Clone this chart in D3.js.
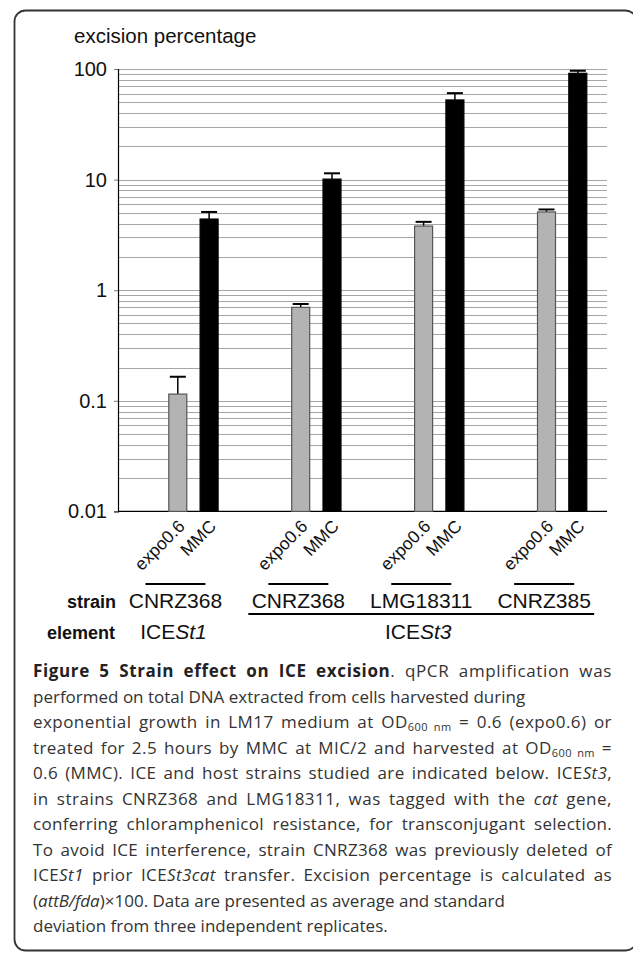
<!DOCTYPE html>
<html><head><meta charset="utf-8">
<script src="https://cdn.jsdelivr.net/npm/d3@7"></script>
<style>body{margin:0;background:#fff}svg{display:block}</style>
</head><body>
<svg id="chart" width="633" height="954"></svg>
<script>
// ---- data ----
const groups = [0, 1, 2, 3];
const strains = ["CNRZ368", "CNRZ368", "LMG18311", "CNRZ385"];
const conditions = ["expo0.6", "MMC"];
const expoValues = [0.115, 0.70, 3.8, 5.1];
const expoErrors = [0.05, 0.05, 0.35, 0.27];
const mmcValues = [4.4, 10.1, 52.5, 91.4];
const mmcErrors = [0.7, 1.3, 8, 5];
const yTicks = [0.01, 0.1, 1, 10, 100];
const yTickLabels = ["0.01", "0.1", "1", "10", "100"];
const elementPrefix = ["ICE", "ICE"];
const elementSuffix = ["St1", "St3"];
const elementGroups = [[0, 0], [1, 3]];
const captionLines = [
  [["Figure 5 Strain effect on ICE excision", "b"], [". qPCR amplification was", ""]],
  [["performed on total DNA extracted from cells harvested during", ""]],
  [["exponential growth in LM17 medium at OD", ""], ["600 nm", "sub"], [" = 0.6 (expo0.6) or", ""]],
  [["treated for 2.5 hours by MMC at MIC/2 and harvested at OD", ""], ["600 nm", "sub"], [" =", ""]],
  [["0.6 (MMC). ICE and host strains studied are indicated below. ICE", ""], ["St3", "i"], [",", ""]],
  [["in strains CNRZ368 and LMG18311, was tagged with the ", ""], ["cat", "i"], [" gene,", ""]],
  [["conferring chloramphenicol resistance, for transconjugant selection.", ""]],
  [["To avoid ICE interference, strain CNRZ368 was previously deleted of", ""]],
  [["ICE", ""], ["St1", "i"], [" prior ICE", ""], ["St3cat", "i"], [" transfer. Excision percentage is calculated as", ""]],
  [["(", ""], ["attB/fda", "i"], [")×100. Data are presented as average and standard", ""]],
  [["deviation from three independent replicates.", ""]]
];
const captionJustify = [true, false, true, true, true, true, true, true, true, false, false];

// ---- layout ----
const svg = d3.select("#chart");
const plotL = 118, plotR = 607, plotT = 69, plotB = 511.4;
const chartFont = "'Liberation Sans', Arial, sans-serif";

// frame
svg.append("rect").attr("x", 14.5).attr("y", 10.5).attr("width", 622).attr("height", 940)
  .attr("rx", 11).attr("fill", "none").attr("stroke", "#333").attr("stroke-width", 1.8);

const y = d3.scaleLog().domain([0.01, 100]).range([plotB, plotT]);
const x = d3.scaleBand().domain(groups).range([132, 623.6]);
const xs = d3.scaleBand().domain(conditions).range([-24.65, 24.65]).paddingInner(0.425);

// gridlines (all log ticks)
const gridVals = y.ticks().filter(v => v <= 100 && v >= 0.01);
svg.append("g").selectAll("line").data(gridVals).join("line")
  .attr("x1", plotL).attr("x2", plotR)
  .attr("y1", d => Math.round(y(d)) + 0.5).attr("y2", d => Math.round(y(d)) + 0.5)
  .attr("stroke", "#a6a6a6").attr("stroke-width", 1.2);

// y axis
const yAxis = d3.axisLeft(y).tickValues(yTicks).tickFormat((d, i) => yTickLabels[i]).tickSize(4).tickPadding(7);
const ga = svg.append("g").attr("transform", `translate(${plotL},0)`).call(yAxis);
ga.select(".domain").attr("stroke", "#000").attr("stroke-width", 1.2);
ga.selectAll(".tick line").attr("stroke", "#777");
ga.selectAll("text").attr("font-family", chartFont).attr("font-size", 20).attr("fill", "#111");

// x axis base line
svg.append("line").attr("x1", plotL).attr("x2", plotR).attr("y1", plotB).attr("y2", plotB)
  .attr("stroke", "#000").attr("stroke-width", 1.3);

svg.append("text").attr("x", 74).attr("y", 43).attr("font-family", chartFont).attr("font-size", 20.5)
  .attr("fill", "#111").text("excision percentage");

// bars
const barData = [];
groups.forEach(g => {
  barData.push({g, c: "expo0.6", v: expoValues[g], e: expoErrors[g]});
  barData.push({g, c: "MMC", v: mmcValues[g], e: mmcErrors[g]});
});
const bx = d => x(d.g) + x.bandwidth() / 2 + xs(d.c);
const cx = d => bx(d) + xs.bandwidth() / 2;

// error bars (upper)
const eg = svg.append("g");
eg.selectAll("line.v").data(barData).join("line").attr("class", "v")
  .attr("x1", cx).attr("x2", cx).attr("y1", d => y(d.v)).attr("y2", d => y(d.v + d.e))
  .attr("stroke", "#000").attr("stroke-width", 1.5);
eg.selectAll("line.c").data(barData).join("line").attr("class", "c")
  .attr("x1", d => cx(d) - 8).attr("x2", d => cx(d) + 8).attr("y1", d => y(d.v + d.e)).attr("y2", d => y(d.v + d.e))
  .attr("stroke", "#000").attr("stroke-width", 2);

svg.append("g").selectAll("rect").data(barData).join("rect")
  .attr("x", bx).attr("width", xs.bandwidth())
  .attr("y", d => y(d.v)).attr("height", d => plotB - y(d.v))
  .attr("fill", d => d.c === "MMC" ? "#000" : "#b3b3b3")
  .attr("stroke", d => d.c === "MMC" ? "#000" : "#555").attr("stroke-width", 1.2);

// rotated x labels
svg.append("g").selectAll("text").data(barData).join("text")
  .attr("transform", d => `translate(${cx(d) + 8},${plotB + 16}) rotate(-45)`)
  .attr("text-anchor", "end").attr("font-family", chartFont).attr("font-size", 17.5).attr("fill", "#111")
  .text(d => d.c);

// strain rows
const sc = g => x(g) + x.bandwidth() / 2 - 18;
svg.append("g").selectAll("line").data(groups).join("line")
  .attr("x1", g => sc(g) - 30).attr("x2", g => sc(g) + 30).attr("y1", 584).attr("y2", 584)
  .attr("stroke", "#000").attr("stroke-width", 2);
svg.append("g").selectAll("text").data(groups).join("text")
  .attr("x", sc).attr("y", 608).attr("text-anchor", "middle")
  .attr("font-family", chartFont).attr("font-size", 21).attr("fill", "#111").text(g => strains[g]);
svg.append("text").attr("x", 116).attr("y", 608).attr("text-anchor", "end").attr("font-family", chartFont)
  .attr("font-size", 18).attr("font-weight", "bold").attr("fill", "#111").text("strain");
svg.append("text").attr("x", 115).attr("y", 639).attr("text-anchor", "end").attr("font-family", chartFont)
  .attr("font-size", 18).attr("font-weight", "bold").attr("fill", "#111").text("element");

// element rows
elementGroups.forEach((span, i) => {
  const a = sc(span[0]) - 30, b = sc(span[1]) + 30;
  if (span[1] > span[0]) {
    svg.append("line").attr("x1", a - 20).attr("x2", b + 20).attr("y1", 614).attr("y2", 614)
      .attr("stroke", "#000").attr("stroke-width", 2);
  }
  const t = svg.append("text").attr("x", (a + b) / 2 - (span[1] > span[0] ? 3 : 2)).attr("y", 639)
    .attr("text-anchor", "middle").attr("font-family", chartFont).attr("font-size", 21).attr("fill", "#111");
  t.append("tspan").text(elementPrefix[i]);
  t.append("tspan").attr("font-style", "italic").text(elementSuffix[i]);
});

// caption
const capFont = "'Open Sans', sans-serif";
const capL = 33, capR = 612, capTop = 677, capStep = 25.5;
captionLines.forEach((segs, i) => {
  const t = svg.append("text").attr("x", capL).attr("y", capTop + i * capStep)
    .attr("font-family", capFont).attr("font-size", 17).attr("fill", "#333");
  segs.forEach(([s, st]) => {
    const ts = t.append("tspan").text(s);
    if (st === "b") ts.attr("font-weight", "bold").attr("fill", "#222");
    if (st === "i") ts.attr("font-style", "italic");
    if (st === "sub") ts.attr("font-size", 11).attr("baseline-shift", "-25%");
  });
  if (captionJustify[i]) {
    const w = t.node().getComputedTextLength();
    const full = segs.map(s => s[0]).join("");
    const n = (full.match(/ /g) || []).length;
    const extra = capR - capL - w;
    if (n > 0 && extra > 0) {
      const ls = extra * 0.5 / full.length;
      t.attr("letter-spacing", ls);
      const w2 = t.node().getComputedTextLength();
      t.attr("word-spacing", (capR - capL - w2) / n);
    }
  }
});
</script>
</body></html>
